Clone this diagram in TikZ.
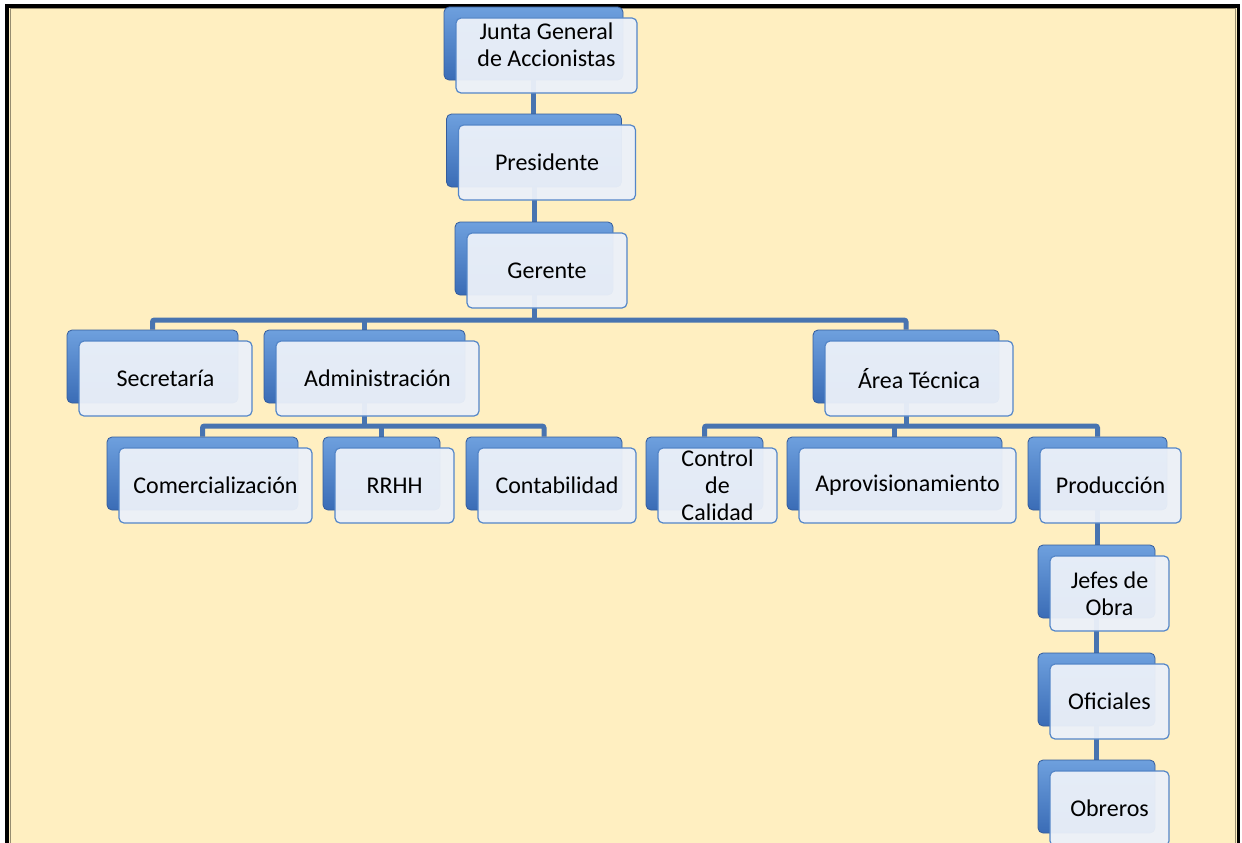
\documentclass[tikz,border=0pt]{standalone}
\usepackage{fontspec}
\setmainfont{Carlito}
\pgfdeclarelayer{deep}
\pgfdeclarelayer{bg}
\pgfsetlayers{deep,bg,main}
\definecolor{cream}{RGB}{255,239,193}
\definecolor{conncol}{RGB}{72,116,176}
\definecolor{backtop}{RGB}{110,160,222}
\definecolor{backbot}{RGB}{58,108,182}
\definecolor{backdraw}{RGB}{52,92,156}
\definecolor{frontfill}{RGB}{236,241,249}
\definecolor{frontdraw}{RGB}{84,134,200}
\definecolor{innerline}{RGB}{150,140,112}
\tikzset{
  backbox/.style={rounded corners=5pt, top color=backtop, bottom color=backbot,
    draw=backdraw, line width=0.8pt, minimum height=73pt, inner sep=0pt},
  frontbox/.style={rounded corners=5pt, fill=frontfill, fill opacity=0.95,
    text opacity=1, draw=frontdraw, line width=1.2pt, minimum height=75pt,
    inner sep=0pt, align=center, font=\fontsize{24}{27}\selectfont},
  conn/.style={draw=conncol, line width=5pt, rounded corners=2pt}
}
\newcommand\orgbox[5]{%
  \node[backbox, minimum width=#4pt] (#1) at (#2,#3) {};
  \node[frontbox, minimum width=#4pt+2pt] (#1-f) at (#2+13,#3+12) {#5};
}
\begin{document}
\begin{tikzpicture}[x=1pt,y=-1pt]
\useasboundingbox (0,0) rectangle (1242,843);
\begin{pgfonlayer}{deep}
  \fill[cream] (7,6) rectangle (1238.5,900);
  \draw[innerline, line width=1pt] (10,9) rectangle (1235.5,900);
  \draw[black, line width=3.5pt] (7,6) rectangle (1238.5,900);
\end{pgfonlayer}
\orgbox{junta}{533.5}{43.5}{179}{Junta General\\de Accionistas\rule[-22pt]{0pt}{22pt}}
\orgbox{pres}{534}{150.5}{175}{Presidente}
\orgbox{ger}{534}{258.5}{158}{Gerente}
\orgbox{sec}{152.5}{366.5}{171}{Secretaría}
\orgbox{adm}{364.5}{366.5}{201}{Administración}
\orgbox{area}{906}{366.5}{186}{Área Técnica}
\orgbox{com}{202.5}{473.5}{191}{Comercialización}
\orgbox{rrhh}{381.5}{473.5}{117}{RRHH}
\orgbox{cont}{544}{473.5}{156}{Contabilidad}
\orgbox{ctrl}{704.5}{473.5}{117}{\fontsize{24}{24.5}\selectfont Control\\de\\Calidad}
\orgbox{aprov}{894.5}{473.5}{215}{Aprovisionamiento}
\orgbox{prod}{1097.5}{473.5}{139}{Producción}
\orgbox{jefes}{1096.5}{581.5}{117}{Jefes de\\Obra}
\orgbox{ofic}{1096.5}{689.5}{117}{Oficiales}
\orgbox{obre}{1096.5}{796.5}{117}{Obreros}
\coordinate (busA) at (534,320);
\coordinate (busB) at (364.5,426);
\coordinate (busC) at (906,426);
\begin{pgfonlayer}{bg}
  \draw[conn] (junta.south) -- (junta.south |- pres.north);
  \draw[conn] (pres.south) -- (pres.south |- ger.north);
  \draw[conn] (ger.south) -- (ger.south |- busA);
  \draw[conn] (sec.north) -- (sec.north |- busA) -- (area.north |- busA) -- (area.north);
  \draw[conn] (adm.north) -- (adm.north |- busA);
  \draw[conn] (adm.south) -- (adm.south |- busB);
  \draw[conn] (com.north) -- (com.north |- busB) -- (cont.north |- busB) -- (cont.north);
  \draw[conn] (rrhh.north) -- (rrhh.north |- busB);
  \draw[conn] (area.south) -- (area.south |- busC);
  \draw[conn] (ctrl.north) -- (ctrl.north |- busC) -- (prod.north |- busC) -- (prod.north);
  \draw[conn] (aprov.north) -- (aprov.north |- busC);
  \draw[conn] (prod.south) -- (prod.south |- jefes.north);
  \draw[conn] (jefes.south) -- (jefes.south |- ofic.north);
  \draw[conn] (ofic.south) -- (ofic.south |- obre.north);
\end{pgfonlayer}
\end{tikzpicture}
\end{document}
